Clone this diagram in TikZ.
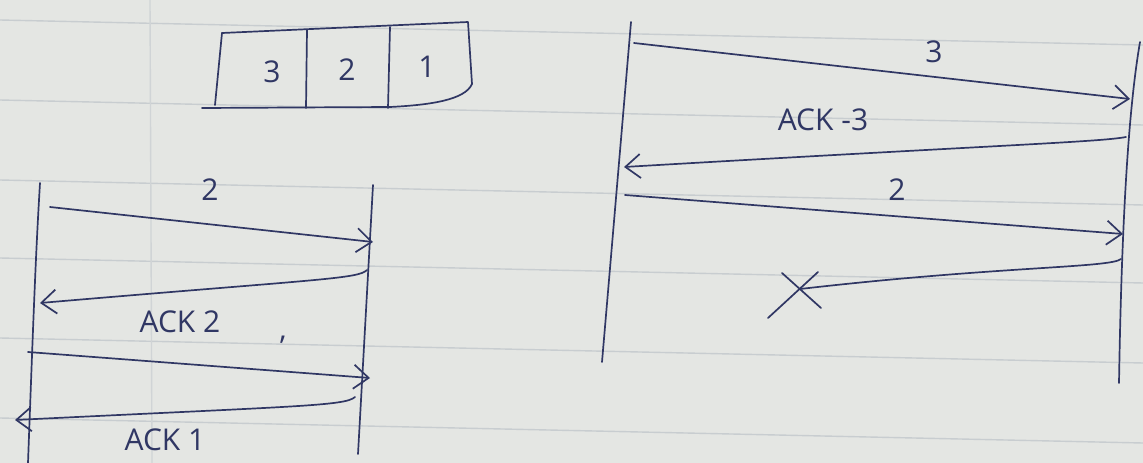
\documentclass[tikz,border=0pt]{standalone}
\usepackage{fontspec}
\setmainfont{Open Sans}
\usetikzlibrary{arrows.meta}
\definecolor{paper}{RGB}{228,230,227}
\definecolor{rule}{RGB}{200,205,208}
\definecolor{ink}{RGB}{48,55,100}
\tikzset{
  ink/.style={draw=ink, line width=1.7pt, line cap=round, line join=round},
  arr/.style={ink, -{Straight Barb[length=15pt,width=24pt,line width=1.7pt]}},
  lbl/.style={text=ink, font=\fontsize{30}{32}\selectfont, inner sep=0pt},
  ruled/.style={draw=rule, line width=1.4pt}
}
\begin{document}
\begin{tikzpicture}[x=1pt,y=-1pt]
\useasboundingbox (0,0) rectangle (1143,463);
\fill[paper] (0,0) rectangle (1143,463);
% ruled paper lines
\foreach \yy in {20,100,180,258,338,418} {
  \draw[ruled] (0,\yy) -- (1143,\yy+25);
}
\draw[draw=rule!70!paper, line width=1.4pt] (150,0) -- (152,463);

% ---- buffer ----
\coordinate (b1) at (222,33);
\coordinate (b2) at (468,22);
\coordinate (b3) at (472,84);
\coordinate (b4) at (390,107);
\coordinate (b5) at (202,108);
\coordinate (b6) at (215,105);
\draw[ink] (b1) -- (b2) -- (b3) .. controls (465,100) and (430,105) .. (b4) -- (b5);
\draw[ink] (b1) -- (b6);
\draw[ink] (307,30) -- (306,108);
\draw[ink] (390,27) -- (388,108);
\node[lbl] (c3) at (272,72) {3};
\node[lbl] (c2) at (347,70) {2};
\node[lbl] (c1) at (427,67) {1};

% ---- left diagram ----
\coordinate (LLt) at (40,183);
\coordinate (LLb) at (28,463);
\coordinate (LRt) at (373,185);
\coordinate (LRb) at (358,454);
\draw[ink] (LLt) .. controls (36,250) and (34,300) .. (LLb);
\draw[ink] (LRt) -- (LRb);

\coordinate (l1s) at (50,207);
\coordinate (l1e) at (373,242);
\draw[arr] (l1s) -- (l1e);
\node[lbl] (l1lab) at (210,190) {2};

\coordinate (l2s) at (367,270);
\coordinate (l2e) at (40,303);
\draw[arr] (l2s) .. controls (358,279) and (320,279) .. (l2e);
\node[lbl] (l2lab) at (180,322) {ACK 2};
\node[lbl] (comma) at (283,340) {,};

\coordinate (l3s) at (28,352);
\coordinate (l3e) at (370,378);
\draw[arr] (l3s) -- (l3e);

\coordinate (l4s) at (355,397);
\coordinate (l4e) at (15,420);
\draw[arr] (l4s) .. controls (345,406) and (300,406) .. (l4e);
\node[lbl] (l4lab) at (165,440) {ACK 1};

% ---- right diagram ----
\coordinate (RLt) at (631,22);
\coordinate (RLb) at (602,362);
\coordinate (RRt) at (1140,42);
\coordinate (RRb) at (1119,383);
\draw[ink] (RLt) -- (RLb);
\draw[ink] (RRt) .. controls (1130,100) and (1122,200) .. (RRb);

\coordinate (r1s) at (634,43);
\coordinate (r1e) at (1130,99);
\draw[arr] (r1s) -- (r1e);
\node[lbl] (r1lab) at (934,52) {3};

\coordinate (r2s) at (1126,137);
\coordinate (r2e) at (624,167);
\draw[arr] (r2s) .. controls (1100,142) and (1000,145) .. (r2e);
\node[lbl] (r2lab) at (823,120) {ACK -3};

\coordinate (r3s) at (625,195);
\coordinate (r3e) at (1123,234);
\draw[arr] (r3s) -- (r3e);
\node[lbl] (r3lab) at (897,190) {2};

\coordinate (r4s) at (1121,259);
\coordinate (lost) at (800,289);
\draw[ink] (r4s) .. controls (1110,268) and (1000,266) .. (lost);
\draw[ink] ([shift={(-32,29)}]lost) -- ([shift={(18,-17)}]lost);
\draw[ink] ([shift={(-18,-16)}]lost) -- ([shift={(21,19)}]lost);
\end{tikzpicture}
\end{document}
